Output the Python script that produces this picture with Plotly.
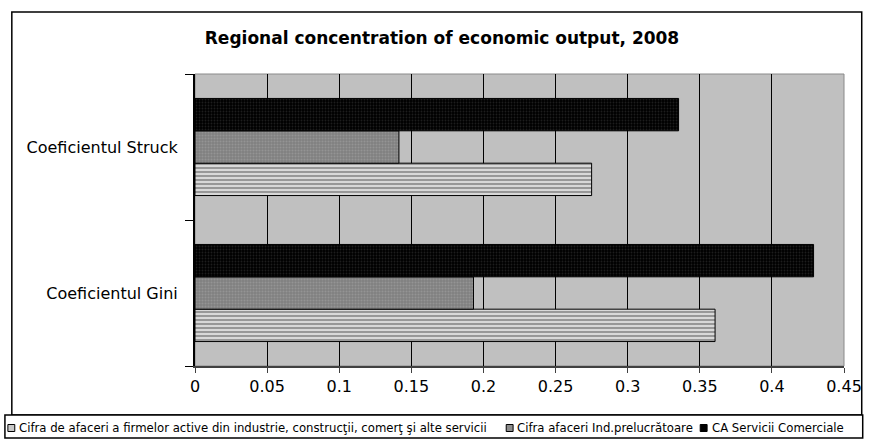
import plotly.graph_objects as go

categories = ["Coeficientul Gini", "Coeficientul Struck"]
series_names = [
    "Cifra de afaceri a firmelor active din industrie, construcţii, comerţ şi alte servicii",
    "Cifra afaceri Ind.prelucrătoare",
    "CA Servicii Comerciale",
]
cifra_afaceri = [0.3606, 0.275]
ind_prelucratoare = [0.1931, 0.1414]
servicii_comerciale = [0.4289, 0.3353]
x_ticks = [0, 0.05, 0.1, 0.15, 0.2, 0.25, 0.3, 0.35, 0.4, 0.45]
x_tick_labels = ["0", "0.05", "0.1", "0.15", "0.2", "0.25", "0.3", "0.35", "0.4", "0.45"]
title_text = "Regional concentration of economic output, 2008"

W, H = 874, 439
L, R, T, B = 195, 20, 74, 73
PW, PH = W - L - R, H - T - B

def px(x):
    return (x - L) / PW

def py(y):
    return (H - B - y) / PH

FONT = "DejaVu Sans, Liberation Sans, Arial, sans-serif"

styles = [
    dict(color="#b8b8b8", pattern=dict(shape="-", fgcolor="#000000", bgcolor="#d8d8d8", size=4, solidity=0.3)),
    dict(color="#8c8c8c", pattern=dict(shape=".", fgcolor="#a8a8a8", bgcolor="#808080", size=3, solidity=0.35)),
    dict(color="#000000", pattern=dict(shape=".", fgcolor="#3a3a3a", bgcolor="#000000", size=3, solidity=0.3)),
]
values = [cifra_afaceri, ind_prelucratoare, servicii_comerciale]

fig = go.Figure()
for name, vals, st in zip(series_names, values, styles):
    fig.add_trace(go.Bar(
        y=categories, x=vals, name=name, orientation="h",
        marker=dict(color=st["color"], pattern=st["pattern"],
                    line=dict(color="#000000", width=1)),
        showlegend=False,
    ))

shapes = [
    dict(type="rect", xref="paper", yref="paper", x0=0, x1=1, y0=0, y1=1,
         line=dict(color="#8a8a8a", width=1), layer="below"),
    dict(type="rect", xref="paper", yref="paper", x0=px(9), x1=px(872), y0=py(415), y1=py(12),
         line=dict(color="#000000", width=1.5)),
    dict(type="rect", xref="paper", yref="paper", x0=px(2), x1=px(873), y0=py(438), y1=py(415),
         line=dict(color="#000000", width=1.5), fillcolor="white"),
]

legend_pos = [(5, 14), (511, 520), (708, 718)]
sym_fill = ["#c8c8c8", "#8c8c8c", "#000000"]
annotations = []
for (sx, tx), name, fc in zip(legend_pos, series_names, sym_fill):
    shapes.append(dict(type="rect", xref="paper", yref="paper",
                       x0=px(sx), x1=px(sx + 7), y0=py(431.5), y1=py(424.5),
                       line=dict(color="#000000", width=1), fillcolor=fc))
    annotations.append(dict(text=name, xref="paper", yref="paper", x=px(tx), y=py(428),
                            xanchor="left", yanchor="middle", showarrow=False,
                            font=dict(family=FONT, size=11.7, color="#000000")))

fig.update_layout(
    width=W, height=H,
    margin=dict(l=L, r=R, t=T, b=B),
    paper_bgcolor="white",
    plot_bgcolor="#c0c0c0",
    barmode="group", bargap=0.335, bargroupgap=0,
    title=dict(text="<b>" + title_text + "</b>", x=442 / W, xanchor="center",
               y=1 - 38 / H, yanchor="middle", xref="container", yref="container",
               font=dict(family=FONT, size=17, color="#000000")),
    font=dict(family=FONT, size=16, color="#000000"),
    xaxis=dict(range=[0, 0.45], tickvals=x_ticks, ticktext=x_tick_labels,
               showgrid=True, gridcolor="#000000", gridwidth=1, zeroline=False,
               showline=True, linecolor="#404040", linewidth=2,
               ticks="outside", ticklen=5, tickcolor="#404040",
               tickfont=dict(family=FONT, size=16, color="#000000")),
    yaxis=dict(type="category", categoryorder="array", categoryarray=categories,
               tickson="boundaries", ticks="outside", ticklen=8, tickcolor="#000000",
               showline=True, linecolor="#000000", linewidth=2, showgrid=False,
               ticklabelstandoff=12,
               tickfont=dict(family=FONT, size=16, color="#000000")),
    shapes=shapes,
    annotations=annotations,
    showlegend=False,
)

fig.write_html("out.html", config={"displayModeBar": False},
               post_script="document.body.style.margin='0';document.body.style.overflow='hidden';")
